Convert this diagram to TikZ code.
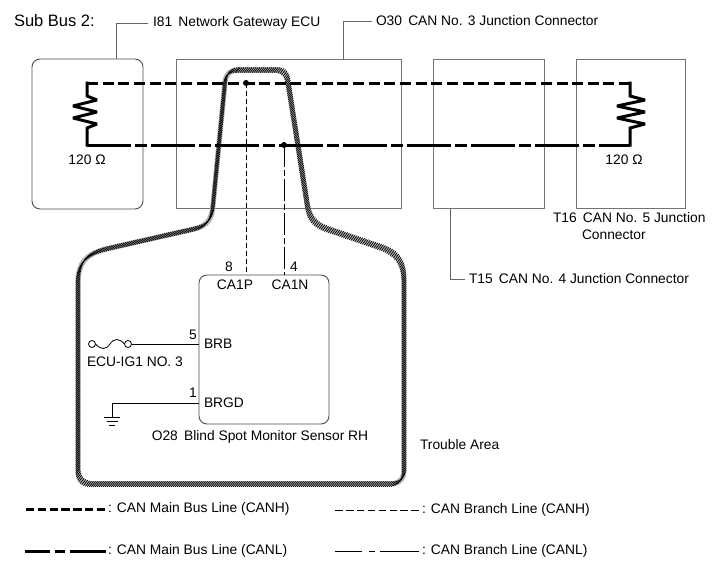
\documentclass[tikz,border=0pt]{standalone}
\usepackage{fontspec}
\setmainfont{Liberation Sans}
\usetikzlibrary{decorations.markings}
\begin{document}
\begin{tikzpicture}[x=1pt,y=-1pt,
  every node/.style={font=\fontsize{13.8}{16}\selectfont, inner sep=0pt, outer sep=0pt},
  box/.style={draw=black!55, line width=0.9pt, inner sep=0pt, outer sep=0pt},
  ecu/.style={box, rounded corners=8pt, draw=black!70},
  leader/.style={draw=black!60, line width=0.9pt},
  wire/.style={line width=0.8pt},
  canhmain/.style={line width=3pt, dash pattern=on 11pt off 4.65pt},
  canlmain/.style={line width=3pt, dash pattern=on 43.5pt off 4.5pt on 11.5pt off 4.5pt},
  canhbr/.style={line width=0.8pt, dash pattern=on 5pt off 3pt},
  canlbr/.style={line width=0.8pt, dash pattern=on 22pt off 3pt on 6pt off 3pt},
  res/.style={line width=3pt, line cap=rect, line join=miter, miter limit=3},
  jdot/.style={circle, fill=black, minimum size=6pt, inner sep=0pt},
  fusec/.style={circle, draw, line width=0.8pt, minimum size=7pt, inner sep=0pt},
  troublehatch/.style={draw=black!30, line width=5.2pt,
     postaction={decorate}, decoration={markings,
     mark=between positions 0 and 1 step 2pt with {\pgftransformresetnontranslations
       \draw[line width=0.7pt, black] (-2.1pt,-2.8pt) -- (2.1pt,2.8pt);}}}
]
\useasboundingbox (0,0) rectangle (713,581);

% boxes
\node[ecu, minimum width=111pt, minimum height=150pt] (i81) at (87.5,134) {};
\node[box, minimum width=225pt, minimum height=149pt] (o30) at (288.5,133.5) {};
\node[box, minimum width=111pt, minimum height=149pt] (t15) at (488.5,133.5) {};
\node[box, minimum width=109pt, minimum height=149pt] (t16) at (630.5,133.5) {};
\node[ecu, minimum width=130pt, minimum height=149pt] (o28) at (264,349.5) {};

% titles and labels
\node[anchor=west, font=\fontsize{16.5}{19}\selectfont] (title) at (14,21) {Sub Bus 2:};
\node[anchor=west, inner xsep=5pt] (l81) at (148,23) {I81\hspace{0.45em}Network Gateway ECU};
\node[anchor=west, inner xsep=4pt] (l30) at (372,21) {O30\hspace{0.45em}CAN No. 3 Junction Connector};
\node[anchor=west, inner xsep=4pt] (l15) at (465,279) {T15\hspace{0.45em}CAN No. 4 Junction Connector};
\node[anchor=west] (l16a) at (553,218) {T16\hspace{0.45em}CAN No. 5 Junction};
\node[anchor=west] (l16b) at (582,235) {Connector};

% leaders
\draw[leader] ([xshift=28.5pt]i81.north) |- (l81.west);
\draw[leader] ([xshift=54.5pt]o30.north) |- (l30.west);
\draw[leader] ([xshift=-38.5pt]t15.south) |- (l15.west);

% trouble area band
\path[troublehatch] (238,70) -- (276,70) .. controls (283,70) and (287,74) .. (288,82)
  -- (307,203) .. controls (309,218) and (314,225) .. (330,230)
  -- (380,247) .. controls (398,253) and (404,263) .. (404,282)
  -- (404,470) .. controls (404,479) and (399,484) .. (390,484)
  -- (92,484) .. controls (83,484) and (78,479) .. (78,470)
  -- (78,282) .. controls (78,263) and (86,254) .. (106,249)
  -- (194,229) .. controls (208,226) and (212,218) .. (213,205)
  -- (225,82) .. controls (226,74) and (230,70) .. (238,70) -- cycle;

% bus lines
\coordinate (hL) at (87,83); \coordinate (hR) at (630,83);
\coordinate (lL) at (87,145); \coordinate (lR) at (630,145);
\coordinate (jH) at (246,83); \coordinate (jL) at (284,145);
\draw[canhmain] (hL) -- (hR);
\draw[canlmain] (lL) -- (lR);

% resistors
\draw[res] (hL) -- (87,96) -- (97,100) -- (73,106) -- (97,112) -- (73,118) -- (97,124) -- (87,128) -- (lL);
\draw[res] (hR) -- (630,96) -- (645,100) -- (617,106) -- (645,112) -- (617,118) -- (645,124) -- (630,128) -- (lR);
\node (r1) at (87,160) {120 Ω};
\node (r2) at (624,160) {120 Ω};

% branches
\coordinate (pCA1P) at (246,275); \coordinate (pCA1N) at (284,275);
\draw[canhbr] (jH) -- (pCA1P);
\draw[canlbr] (jL) -- (pCA1N);
\node[jdot] (dH) at (jH) {};
\node[jdot] (dL) at (jL) {};

\node (n8) at (229,267) {8};
\node (n4) at (294,267) {4};
\node (ca1p) at (235,285) {CA1P};
\node (ca1n) at (290,285) {CA1N};

% fuse and power
\node[fusec] (f1) at (92,344) {};
\node[fusec] (f2) at (128,344) {};
\draw[wire] (f1.east) .. controls (101,350) and (106,350) .. (110,344) .. controls (114,338) and (119,338) .. (f2.west);
\coordinate (pBRB) at (199,344);
\draw[wire] (f2.east) -- (pBRB);
\node[anchor=west] (ecuig) at (87,362) {ECU-IG1 NO. 3};
\node (n5) at (193,335) {5};
\node[anchor=west] (brb) at (204,344) {BRB};

% ground
\coordinate (pBRGD) at (199,403);
\coordinate (gnd) at (112,417);
\draw[wire] (pBRGD) -| (gnd);
\draw[wire] (104,417) -- (120,417) (106.5,421) -- (117.5,421) (109,425) -- (115,425);
\node (n1) at (193,393) {1};
\node[anchor=west] (brgd) at (204,403) {BRGD};

\node (o28lbl) at (260,437) {O28\hspace{0.45em}Blind Spot Monitor Sensor RH};
\node[anchor=west] (trouble) at (420,445) {Trouble Area};

% legend
\draw[line width=3pt, dash pattern=on 8.3pt off 3.5pt] (26,509) -- (105,509);
\node[anchor=west] (lg1) at (108,509) {: CAN Main Bus Line (CANH)};
\draw[line width=0.8pt, dash pattern=on 7.6pt off 3.3pt] (335,510) -- (419,510);
\node[anchor=west] (lg2) at (422,510) {: CAN Branch Line (CANH)};
\draw[line width=3pt] (25,551) -- (50,551) (55,551) -- (65,551) (70,551) -- (106,551);
\node[anchor=west] (lg3) at (108,551) {: CAN Main Bus Line (CANL)};
\draw[line width=0.8pt] (335,551) -- (362,551) (369,551) -- (375,551) (380,551) -- (419,551);
\node[anchor=west] (lg4) at (422,551) {: CAN Branch Line (CANL)};
\end{tikzpicture}
\end{document}
